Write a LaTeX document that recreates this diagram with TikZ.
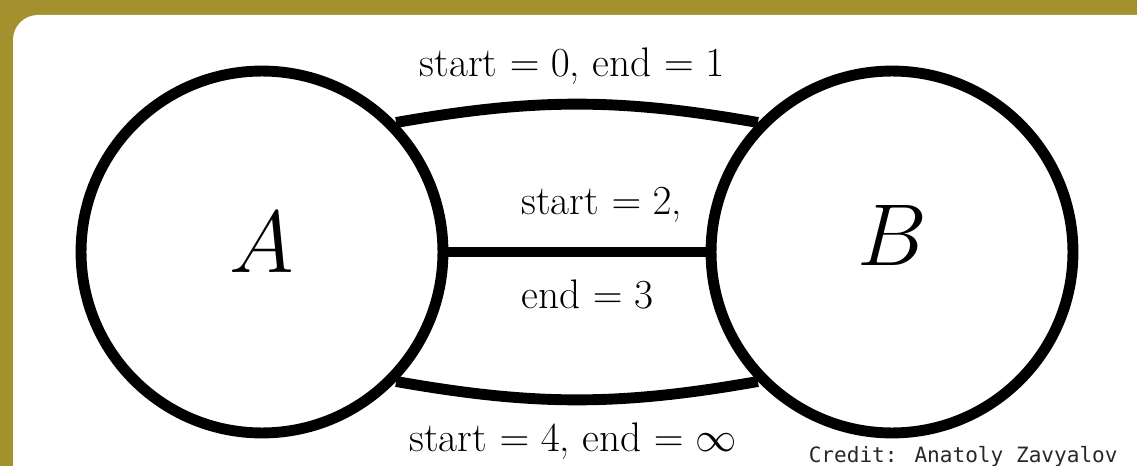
\RequirePackage{fix-cm}
\documentclass[tikz,border=0pt]{standalone}
\usepackage{amsmath}
\usepackage{amssymb}
\usepackage{fontspec}
\newfontfamily\creditfont{DejaVu Sans Mono}
\usetikzlibrary{positioning}
\definecolor{frame}{RGB}{163,145,45}
\definecolor{creditgray}{RGB}{40,40,40}

\begin{document}
\begin{tikzpicture}[x=0.02cm, y=-0.02cm,
    vertex/.style={circle, draw, line width=6.2pt, minimum size=7.24cm,
        inner sep=0pt, font=\fontsize{50}{54}\selectfont},
    link/.style={line width=6.2pt},
    lab/.style={font=\fontsize{23.5}{27}\selectfont, inner sep=0pt}]
    \useasboundingbox (0,0) rectangle (1137,466);
    \clip (0,0) rectangle (1137,466);
    \fill[frame] (0,0) rectangle (1137,466);
    \fill[white, rounded corners=0.5cm] (13,15) rectangle (1165,495);

    \node[vertex, text depth=0.4cm] (A) at (262,252) {$A$};
    \node[vertex, text depth=0.66cm] (B) at (892,252) {$B$};

    \draw[link] (A.44) to[bend left=10]
        node[lab, anchor=base, yshift=0.56cm, xshift=-0.1cm] (top) {start $=0$, end $=1$} (B.136);
    \draw[link] (A.east) --
        node[lab, anchor=base west, xshift=-1.22cm, yshift=0.76cm] (midup) {start $=2$,}
        node[lab, anchor=base west, xshift=-1.22cm, yshift=-1.14cm] (middown) {end $=3$} (B.west);
    \draw[link] (A.-44) to[bend right=10]
        node[lab, anchor=base, yshift=-1.04cm, xshift=-0.08cm] (bottom) {start $=4$, end $=\infty$} (B.-136);

    \node[anchor=base east, inner sep=0pt, text=creditgray,
        font=\creditfont\fontsize{12}{14}\selectfont] (credit) at (1118,462) {Credit: Anatoly Zavyalov};
\end{tikzpicture}
\end{document}
